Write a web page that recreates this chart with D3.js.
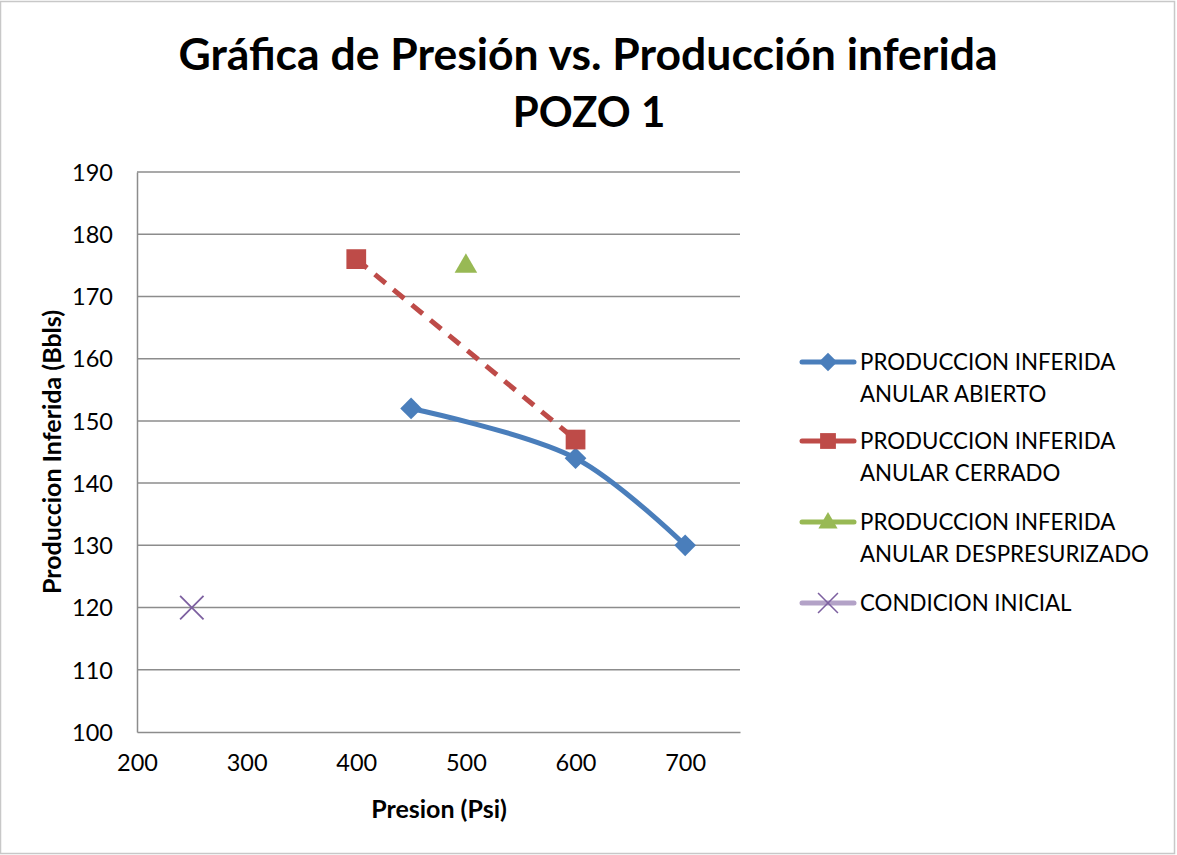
<!DOCTYPE html>
<html>
<head>
<meta charset="utf-8">
<script src="https://cdn.jsdelivr.net/npm/d3@7"></script>
<style>
  body { margin: 0; background: #fff; }
  svg { display: block; font-family: Lato, "Open Sans", sans-serif; }
</style>
</head>
<body>
<svg id="chart" width="1177" height="855"></svg>
<script>
// data
const abiertoX = [450, 600, 700]
const abiertoY = [152, 144, 130]
const cerradoX = [400, 600]
const cerradoY = [176, 147]
const despresX = [500]
const despresY = [175]
const inicialX = [250]
const inicialY = [120]
const xTicks = [200, 300, 400, 500, 600, 700]
const yTicks = [100, 110, 120, 130, 140, 150, 160, 170, 180, 190]
const legendLabels = [
  ['PRODUCCION INFERIDA', 'ANULAR ABIERTO'],
  ['PRODUCCION INFERIDA', 'ANULAR CERRADO'],
  ['PRODUCCION INFERIDA', 'ANULAR DESPRESURIZADO'],
  ['CONDICION INICIAL']
]

const svg = d3.select('#chart')

// outer frame
svg.append('rect')
  .attr('x', 0.5).attr('y', 1.5).attr('width', 1174).attr('height', 852)
  .attr('fill', 'none').attr('stroke', '#c8c8c8').attr('stroke-width', 1.5)

const x = d3.scaleLinear().domain([200, 750]).range([137, 740])
const y = d3.scaleLinear().domain([100, 190]).range([732, 172])

// gridlines
svg.append('g')
  .selectAll('line')
  .data(yTicks.slice(1))
  .enter()
  .append('line')
  .attr('x1', x(200)).attr('x2', x(750))
  .attr('y1', d => y(d)).attr('y2', d => y(d))
  .attr('stroke', '#8c8c8c').attr('stroke-width', 1.5)

// axes
const yAxis = svg.append('g')
  .attr('transform', `translate(${x(200)},0)`)
  .call(d3.axisLeft(y).tickValues(yTicks).tickSize(0).tickPadding(24))
const xAxis = svg.append('g')
  .attr('transform', `translate(0,${y(100)})`)
  .call(d3.axisBottom(x).tickValues(xTicks).tickSize(0).tickPadding(24))

;[xAxis, yAxis].forEach(g => {
  g.select('.domain').attr('stroke', '#8c8c8c').attr('stroke-width', 1.5)
  g.selectAll('text')
    .attr('font-family', 'Lato, "Open Sans", sans-serif')
    .attr('font-size', 23.5).attr('fill', '#000')
})
yAxis.selectAll('text').attr('dy', '0.35em')
xAxis.selectAll('text').attr('dy', '0.62em')

// titles
svg.append('text')
  .attr('x', 588).attr('y', 70)
  .attr('text-anchor', 'middle')
  .attr('font-size', 44.5).attr('font-weight', 'bold')
  .text('Gráfica de Presión vs. Producción inferida')
svg.append('text')
  .attr('x', 589).attr('y', 127)
  .attr('text-anchor', 'middle')
  .attr('font-size', 42).attr('font-weight', 'bold')
  .text('POZO 1')
svg.append('text')
  .attr('x', 439).attr('y', 818)
  .attr('text-anchor', 'middle')
  .attr('font-size', 25).attr('font-weight', 'bold')
  .text('Presion (Psi)')
svg.append('text')
  .attr('transform', 'translate(61,452) rotate(-90)')
  .attr('text-anchor', 'middle')
  .attr('font-size', 25).attr('font-weight', 'bold')
  .text('Produccion Inferida (Bbls)')

const blue = '#4a7ebb', red = '#be4b48', green = '#98b954', purple = '#7d60a0', lilac = '#b3a2c7'

const abierto = abiertoX.map((v, i) => [v, abiertoY[i]])
const cerrado = cerradoX.map((v, i) => [v, cerradoY[i]])

svg.append('path')
  .datum(abierto)
  .attr('fill', 'none').attr('stroke', blue).attr('stroke-width', 5)
  .attr('d', d3.line().x(d => x(d[0])).y(d => y(d[1])).curve(d3.curveCatmullRom.alpha(0.5)))

svg.append('path')
  .datum(cerrado)
  .attr('fill', 'none').attr('stroke', red).attr('stroke-width', 5)
  .attr('stroke-dasharray', '14,10')
  .attr('d', d3.line().x(d => x(d[0])).y(d => y(d[1])))

const diamond = d3.symbol().type(d3.symbolDiamond2).size(300)
const square = d3.symbol().type(d3.symbolSquare).size(390)
const triangle = d3.symbol().type(d3.symbolTriangle).size(220)
const cross = d3.symbol().type(d3.symbolTimes).size(360)

svg.append('g').selectAll('path')
  .data(abierto).enter().append('path')
  .attr('transform', d => `translate(${x(d[0])},${y(d[1])})`)
  .attr('d', diamond).attr('fill', blue)

svg.append('g').selectAll('path')
  .data(cerrado).enter().append('path')
  .attr('transform', d => `translate(${x(d[0])},${y(d[1])})`)
  .attr('d', square).attr('fill', red)

svg.append('g').selectAll('path')
  .data(despresX.map((v, i) => [v, despresY[i]])).enter().append('path')
  .attr('transform', d => `translate(${x(d[0])},${y(d[1]) + 1})`)
  .attr('d', triangle).attr('fill', green)

svg.append('g').selectAll('path')
  .data(inicialX.map((v, i) => [v, inicialY[i]])).enter().append('path')
  .attr('transform', d => `translate(${x(d[0])},${y(d[1])})`)
  .attr('d', cross).attr('fill', 'none').attr('stroke', purple).attr('stroke-width', 1.8)

// legend
const legendTop = [362, 441, 522, 603]
const legendStyles = [
  { line: blue, mark: diamond, fill: blue },
  { line: red, mark: square, fill: red },
  { line: green, mark: triangle, fill: green },
  { line: lilac, mark: cross, fill: 'none', stroke: purple }
]
const legend = svg.append('g')
legendLabels.forEach((lines, i) => {
  const st = legendStyles[i]
  const g = legend.append('g').attr('transform', `translate(0,${legendTop[i]})`)
  g.append('line')
    .attr('x1', 802).attr('x2', 854)
    .attr('stroke', st.line).attr('stroke-width', 5).attr('stroke-linecap', 'round')
  g.append('path')
    .attr('transform', `translate(828,${i === 2 ? 1 : 0}) scale(${i === 1 ? 0.8 : 0.85})`)
    .attr('d', st.mark)
    .attr('fill', st.fill)
    .attr('stroke', st.stroke || 'none').attr('stroke-width', 1.8)
  lines.forEach((t, j) => {
    g.append('text')
      .attr('x', 860).attr('y', j * 32)
      .attr('dy', '0.36em')
      .attr('font-size', 22.3)
      .text(t)
  })
})
</script>
</body>
</html>
